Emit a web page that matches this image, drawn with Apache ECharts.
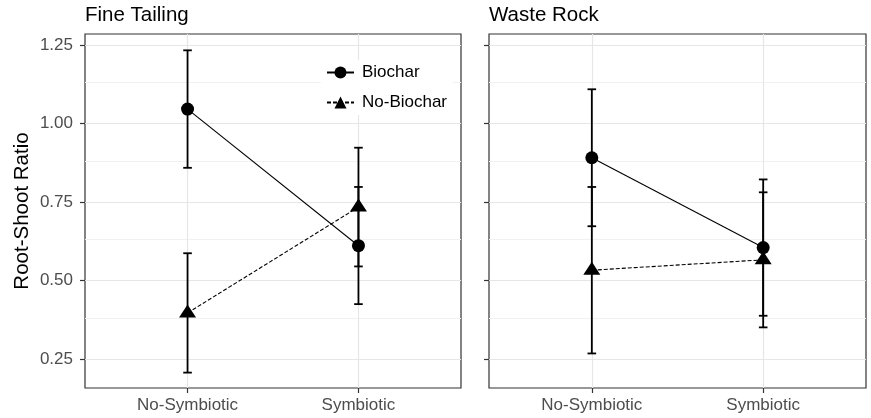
<!DOCTYPE html>
<html><head><meta charset="utf-8">
<script src="https://cdn.jsdelivr.net/npm/echarts@6/dist/echarts.min.js"></script>
<style>html,body{margin:0;padding:0;background:#fff}#c{width:871px;height:418px}</style>
</head><body><div id="c"></div>
<script>
const categories = ['No-Symbiotic', 'Symbiotic'];
const panelTitles = ['Fine Tailing', 'Waste Rock'];
const yTicks = [0.25, 0.5, 0.75, 1.0, 1.25];
const yMinor = [0.375, 0.625, 0.875, 1.125];

// Fine Tailing
const ftBiochar = [1.046, 0.611];
const ftBiocharLo = [0.859, 0.425];
const ftBiocharHi = [1.233, 0.798];
const ftNoBiochar = [0.397, 0.734];
const ftNoBiocharLo = [0.207, 0.545];
const ftNoBiocharHi = [0.587, 0.923];
// Waste Rock
const wrBiochar = [0.891, 0.605];
const wrBiocharLo = [0.673, 0.388];
const wrBiocharHi = [1.109, 0.822];
const wrNoBiochar = [0.533, 0.566];
const wrNoBiocharLo = [0.268, 0.351];
const wrNoBiocharHi = [0.798, 0.781];

const FONT = '"Liberation Sans", Arial, sans-serif';
const panels = [
  {b: ftBiochar, bl: ftBiocharLo, bh: ftBiocharHi, n: ftNoBiochar, nl: ftNoBiocharLo, nh: ftNoBiocharHi},
  {b: wrBiochar, bl: wrBiocharLo, bh: wrBiocharHi, n: wrNoBiochar, nl: wrNoBiocharLo, nh: wrNoBiocharHi}
];

function errRender(params, api) {
  const x = api.value(0), lo = api.value(1), hi = api.value(2);
  const pl = api.coord([x, lo]), ph = api.coord([x, hi]);
  const w = 4.3;
  const st = {stroke: '#000', lineWidth: 1.8};
  return {type: 'group', children: [
    {type: 'line', shape: {x1: pl[0], y1: pl[1], x2: ph[0], y2: ph[1]}, style: st},
    {type: 'line', shape: {x1: pl[0] - w, y1: pl[1], x2: pl[0] + w, y2: pl[1]}, style: st},
    {type: 'line', shape: {x1: ph[0] - w, y1: ph[1], x2: ph[0] + w, y2: ph[1]}, style: st}
  ]};
}

const grids = [
  {left: 85, top: 34, width: 376, height: 354, show: true, borderColor: '#333', borderWidth: 1.2, backgroundColor: '#fff'},
  {left: 489, top: 34, width: 377, height: 354, show: true, borderColor: '#333', borderWidth: 1.2, backgroundColor: '#fff'}
];
const xAxes = [], yAxes = [], series = [];
panels.forEach((p, i) => {
  xAxes.push({
    type: 'value', gridIndex: i, min: 0.4, max: 2.6,
    axisLine: {show: false}, splitLine: {show: false},
    axisTick: {show: true, customValues: [1, 2], length: 5, lineStyle: {color: '#333', width: 1.2}},
    axisLabel: {customValues: [1, 2], formatter: v => categories[Math.round(v) - 1], margin: 9,
      fontSize: 17, color: '#4d4d4d', fontFamily: FONT}
  });
  yAxes.push({
    type: 'value', gridIndex: i, min: 0.158, max: 1.285,
    axisLine: {show: false}, splitLine: {show: false},
    axisTick: {show: true, customValues: yTicks, length: 5, lineStyle: {color: '#333', width: 1.2}},
    axisLabel: {show: i === 0, customValues: yTicks, formatter: v => v.toFixed(2), margin: 12,
      fontSize: 17, color: '#4d4d4d', fontFamily: FONT},
    name: i === 0 ? 'Root-Shoot Ratio' : '', nameLocation: 'middle', nameGap: 52,
    nameTextStyle: {fontSize: 20.5, color: '#000', fontFamily: FONT}
  });
  series.push({
    type: 'line', xAxisIndex: i, yAxisIndex: i, data: [], z: 1, silent: true,
    markLine: {silent: true, z: 1, symbol: 'none', label: {show: false}, animation: false,
      data: [
        ...yMinor.map(v => ({yAxis: v, lineStyle: {color: '#f1f1f1', width: 1, type: 'solid'}})),
        ...yTicks.map(v => ({yAxis: v, lineStyle: {color: '#e6e6e6', width: 1.2, type: 'solid'}})),
        ...[1, 2].map(v => ({xAxis: v, lineStyle: {color: '#e6e6e6', width: 1.2, type: 'solid'}}))
      ]}
  });
  series.push({
    type: 'custom', xAxisIndex: i, yAxisIndex: i, z: 3, renderItem: errRender,
    encode: {x: 0, y: [1, 2]},
    data: [1, 2].map((x, k) => [x, p.bl[k], p.bh[k]])
  });
  series.push({
    type: 'custom', xAxisIndex: i, yAxisIndex: i, z: 3, renderItem: errRender,
    encode: {x: 0, y: [1, 2]},
    data: [1, 2].map((x, k) => [x, p.nl[k], p.nh[k]])
  });
  series.push({
    name: 'Biochar', type: 'line', xAxisIndex: i, yAxisIndex: i, z: 4,
    data: [1, 2].map((x, k) => [x, p.b[k]]),
    symbol: 'circle', symbolSize: 13,
    lineStyle: {color: '#000', width: 1.1, type: 'solid'},
    itemStyle: {color: '#000', borderWidth: 0}
  });
  series.push({
    name: 'No-Biochar', type: 'line', xAxisIndex: i, yAxisIndex: i, z: 4,
    data: [1, 2].map((x, k) => [x, p.n[k]]),
    symbol: 'triangle', symbolSize: [17, 13], symbolOffset: [0, -2],
    lineStyle: {color: '#000', width: 1.1, type: [4, 2]},
    itemStyle: {color: '#000', borderWidth: 0}
  });
});

const chart = echarts.init(document.getElementById('c'), null, {renderer: 'canvas'});
chart.setOption({
  animation: false,
  backgroundColor: '#fff',
  title: [
    {text: panelTitles[0], left: 85, top: 5, padding: 0, textStyle: {fontSize: 20.5, fontWeight: 'normal', color: '#000', fontFamily: FONT}},
    {text: panelTitles[1], left: 489, top: 5, padding: 0, textStyle: {fontSize: 20.5, fontWeight: 'normal', color: '#000', fontFamily: FONT}}
  ],
  legend: {
    data: ['Biochar', 'No-Biochar'], orient: 'vertical', left: 321, top: 60,
    backgroundColor: '#fff', padding: [4, 6, 4, 5], itemWidth: 27, itemHeight: 15, itemGap: 13,
    textStyle: {fontSize: 17, color: '#000', fontFamily: FONT, padding: [0, 0, 0, 3]}
  },
  grid: grids, xAxis: xAxes, yAxis: yAxes, series: series
});
</script></body></html>
